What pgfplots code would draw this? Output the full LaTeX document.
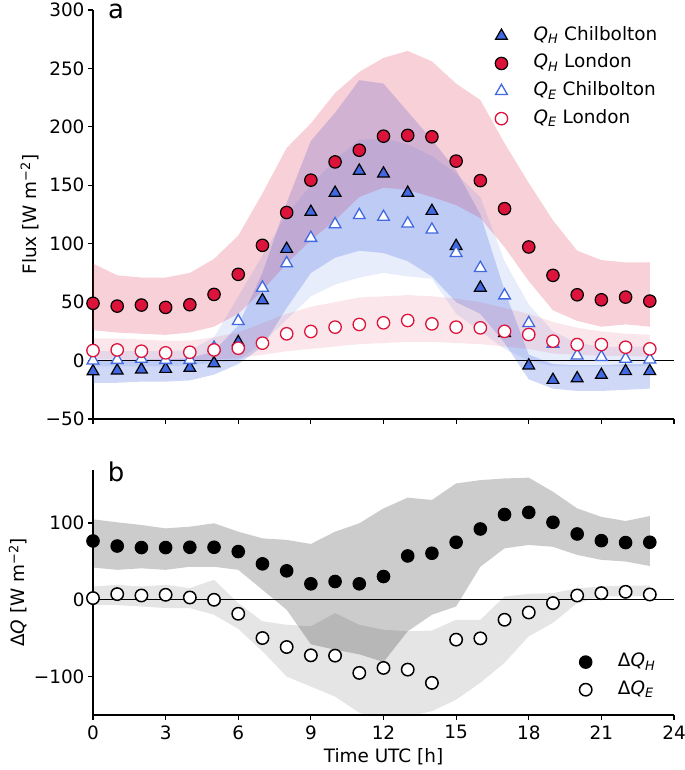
\documentclass[border=0pt]{standalone}
\usepackage{fontspec}
\setmainfont{DejaVu Sans}
\usepackage{pgfplots}
\usepackage{pgfplotstable}
\pgfplotsset{compat=1.18}
\usepgfplotslibrary{fillbetween}
\definecolor{crim}{HTML}{DC143C}
\definecolor{royal}{HTML}{4169E1}

\pgfplotstableread{
h QHC QHClo QHChi QHL QHLlo QHLhi QEC QEClo QEChi QEL QELlo QELhi
0 -9.2 -19 0 49 26 83 0 -5 8 8.6 1 19
1 -8.6 -19 0 46.6 24 73 0.5 -5 8 9.1 1 19
2 -7.7 -18 1 47.5 23 71 1.4 -5 8 8 0 18
3 -7.2 -18 1 45.5 22 71 0.5 -5 8 6.6 0 17
4 -6.3 -17 2 47.8 24 75 0.5 -4 9 7.1 0 17
5 -2.3 -12 8 56.6 29 87 11 -2 20 9.1 1 20
6 15.7 -3 30 73.8 40 107 33.7 0 55 10.6 2 24
7 51.5 12 75 98.6 60 143 62.3 15 90 14.9 5 32
8 95.5 45 135 126.7 83 182 83.2 35 125 22.9 8 40
9 127.2 75 188 154.4 103 203 104.9 55 150 24.9 10 46
10 143.5 88 212 170 120 229 116.6 65 172 28.6 12 50
11 162.4 94 240 180 140 247 124.4 71 189 30.9 14 54
12 160 92 237 192 148 259 122.9 75 190 32.3 15 55
13 143.5 85 213 192.7 146 265 117.2 72 185 34.3 16 56
14 128 72 189 191.5 140 256 112 70 175 31.4 16 55
15 98 50 163 170.7 133 237 92 40 160 28.6 15 53
16 62.3 40 125 154 122 223 79.2 25 140 28 14 50
17 23.5 15 60 130 97 186 55.7 10 85 25 12 45
18 -4.3 -16 5 97.2 68 152 32 0 48 22.3 10 40
19 -16.6 -24 -3 72.9 43 120 14.3 -5 25 16.6 6 33
20 -15.2 -26 -4 56.3 34 94 4.3 -5 15 13.7 5 28
21 -12.3 -26 -4 52 29 86 2.9 -5 12 13.7 4 25
22 -9.1 -25 -3 54.3 31 84 1.4 -5 12 11.4 4 23
23 -9.1 -24 -3 50.9 29 84 0.9 -5 12 10 3 22
}\tabA

\pgfplotstableread{
h DH DHlo DHhi DE DElo DEhi
0 76.6 42 104.8 2.2 -6.5 17.3
1 70 39 100.9 7.4 -7 19.5
2 68 41 97.4 5.6 -8.7 17.3
3 68 39 93 6.5 -10.8 19.5
4 68.4 43 95.2 3 -10.8 15.2
5 68.4 43 99.6 0 -19.5 26
6 62.8 39 88.7 -18.2 -38 -4.3
7 46.8 13 80 -49.8 -67 -28
8 37.7 -13 78 -61.5 -100 -32.5
9 20.8 -58 72.7 -72.3 -113 -34.6
10 23.8 -65 88.7 -72.7 -126 -17.3
11 20.8 -71 99.6 -95.2 -147 -32.5
12 30.3 -81 119 -88.7 -158 -39
13 57.1 -41 133 -90.9 -152 -41
14 60.6 -19.5 130 -108.2 -145 -40
15 74.9 -8.7 151.5 -51.9 -130 -26
16 92.2 43 155.8 -50.2 -108 -26
17 111 67 158 -26 -82 4.3
18 113.8 71.4 159 -16.5 -47.6 7.8
19 100.9 69 140.7 -4.3 -30 8.7
20 85.7 58.4 119 5.6 -4.3 15
21 77 52 108 8.7 4.3 17.3
22 74.5 49.8 102.6 10.4 4.3 18.6
23 74.9 44 109 6.9 4.3 18.6
}\tabB

\newcommand{\fs}{\fontsize{18.5}{22}\selectfont}
\pgfplotsset{
  panel/.style={
    scale only axis, width=581bp, xmin=0, xmax=24,
    axis x line*=bottom, axis y line*=left,
    axis line style={line width=1.1bp, -},
    tick align=outside, major tick length=5bp,
    tick style={line width=1.1bp, black},
    xtick={0,3,...,24},
    /pgf/number format/assume math mode=true,
    tick label style={font=\fs},
    xticklabel style={yshift=-2bp},
    label style={font=\fs},
    legend cell align=left,
  },
  mylegend/.style={draw=none, fill=none, inner sep=0bp, font=\fs, row sep=0bp,
    nodes={inner xsep=2bp, inner ysep=5.3bp, text height=13bp, text depth=4bp},
    /tikz/every odd column/.append style={column sep=24bp}},
}

\begin{document}
\begin{tikzpicture}
\path (0bp,0bp) rectangle (685bp,770bp);

% ---------- panel a ----------
\begin{axis}[panel, at={(93bp,351bp)}, anchor=south west, height=409bp,
  ymin=-50, ymax=300,
  ytick={-50,0,50,100,150,200,250,300},
  yticklabels={−50,0,50,100,150,200,250,300},
  xticklabel=\empty,
  ylabel={Flux [W m\textsuperscript{−2}]},
  legend style={mylegend, at={(0.692,0.971)}, anchor=north west},
]
% bands
\addplot[name path=chU, draw=none, forget plot] table[x=h, y=QHChi]{\tabA};
\addplot[name path=chL, draw=none, forget plot] table[x=h, y=QHClo]{\tabA};
\addplot[royal, fill opacity=0.25, draw=none, forget plot] fill between[of=chU and chL];
\addplot[name path=lhU, draw=none, forget plot] table[x=h, y=QHLhi]{\tabA};
\addplot[name path=lhL, draw=none, forget plot] table[x=h, y=QHLlo]{\tabA};
\addplot[crim, fill opacity=0.2, draw=none, forget plot] fill between[of=lhU and lhL];
\addplot[name path=ceU, draw=none, forget plot] table[x=h, y=QEChi]{\tabA};
\addplot[name path=ceL, draw=none, forget plot] table[x=h, y=QEClo]{\tabA};
\addplot[royal, fill opacity=0.12, draw=none, forget plot] fill between[of=ceU and ceL];
\addplot[name path=leU, draw=none, forget plot] table[x=h, y=QELhi]{\tabA};
\addplot[name path=leL, draw=none, forget plot] table[x=h, y=QELlo]{\tabA};
\addplot[crim, fill opacity=0.1, draw=none, forget plot] fill between[of=leU and leL];
% zero line
\addplot[black, line width=0.9bp, forget plot] coordinates {(0,0) (24,0)};
% markers
\addplot[only marks, mark=triangle*, mark size=6.8bp, mark options={fill=royal, draw=black, line width=1.2bp}] table[x=h, y=QHC]{\tabA};
\addlegendentry{{\itshape Q}\textsubscript{\itshape H} Chilbolton}
\addplot[only marks, mark=*, mark size=6.2bp, mark options={fill=crim, draw=black, line width=1.2bp}] table[x=h, y=QHL]{\tabA};
\addlegendentry{{\itshape Q}\textsubscript{\itshape H} London}
\addplot[only marks, mark=triangle*, mark size=6.8bp, mark options={fill=white, draw=royal, line width=1.3bp}] table[x=h, y=QEC]{\tabA};
\addlegendentry{{\itshape Q}\textsubscript{\itshape E} Chilbolton}
\addplot[only marks, mark=*, mark size=6.2bp, mark options={fill=white, draw=crim, line width=1.3bp}] table[x=h, y=QEL]{\tabA};
\addlegendentry{{\itshape Q}\textsubscript{\itshape E} London}
\end{axis}
\node[font=\fontsize{26}{26}\selectfont, inner sep=0bp] at (116bp,759bp) {a};

% ---------- panel b ----------
\begin{axis}[panel, at={(93bp,55bp)}, anchor=south west, height=245bp,
  ymin=-150, ymax=169,
  ytick={-100,0,100},
  yticklabels={−100,0,100},
  xticklabels={0,3,6,9,12,15,18,21,24},
  xlabel={Time UTC [h]},
  xlabel style={yshift=-2bp},
  ylabel={Δ{\itshape Q} [W m\textsuperscript{−2}]},
  legend style={mylegend, at={(0.837,0.273)}, anchor=north west},
]
\addplot[name path=dhU, draw=none, forget plot] table[x=h, y=DHhi]{\tabB};
\addplot[name path=dhL, draw=none, forget plot] table[x=h, y=DHlo]{\tabB};
\addplot[black, fill opacity=0.2, draw=none, forget plot] fill between[of=dhU and dhL];
\addplot[name path=deU, draw=none, forget plot] table[x=h, y=DEhi]{\tabB};
\addplot[name path=deL, draw=none, forget plot] table[x=h, y=DElo]{\tabB};
\addplot[black, fill opacity=0.1, draw=none, forget plot] fill between[of=deU and deL];
\addplot[black, line width=0.9bp, forget plot] coordinates {(0,0) (24,0)};
\addplot[only marks, mark=*, mark size=6.2bp, mark options={fill=black, draw=black, line width=1.2bp}] table[x=h, y=DH]{\tabB};
\addlegendentry{Δ{\itshape Q}\textsubscript{\itshape H}}
\addplot[only marks, mark=*, mark size=6.2bp, mark options={fill=white, draw=black, line width=1.5bp}] table[x=h, y=DE]{\tabB};
\addlegendentry{Δ{\itshape Q}\textsubscript{\itshape E}}
\end{axis}
\node[font=\fontsize{26}{26}\selectfont, inner sep=0bp] at (116bp,298bp) {b};
\pgfresetboundingbox
\path (0bp,0bp) rectangle (685bp,770bp);
\end{tikzpicture}
\end{document}
